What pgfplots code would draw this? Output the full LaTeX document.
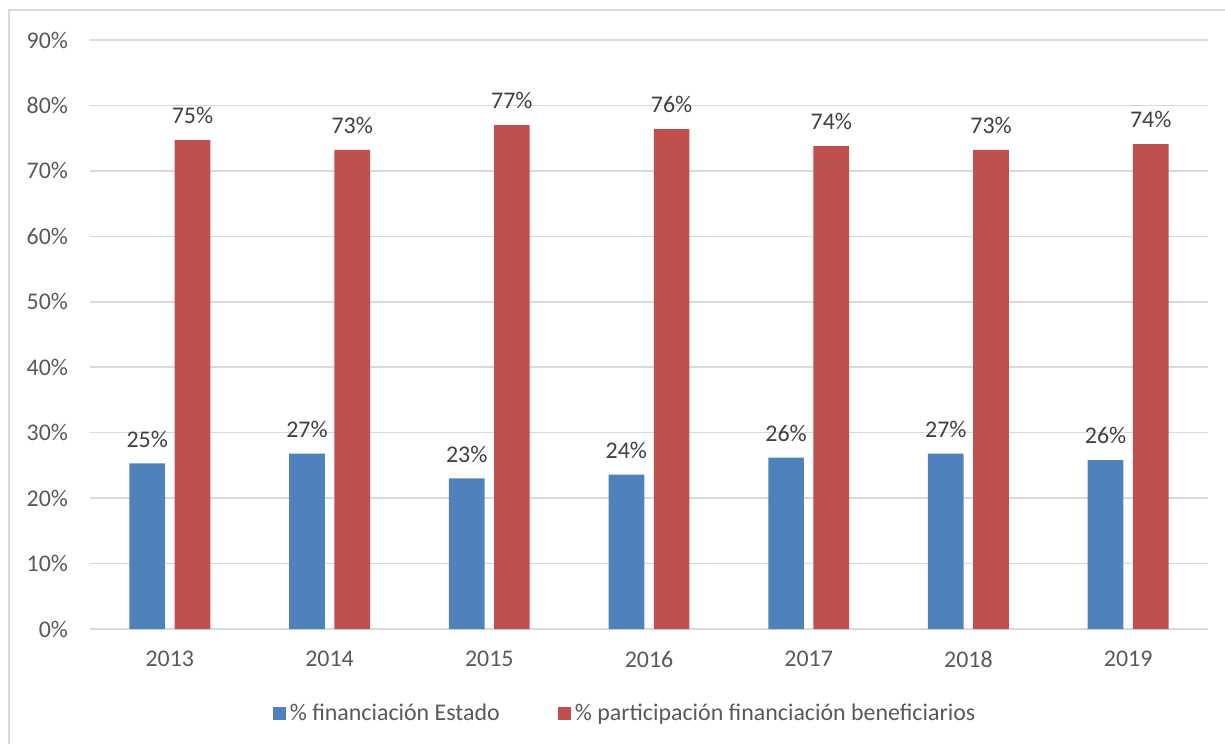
\documentclass[border=0pt]{standalone}
\usepackage{fontspec}
\setmainfont{Carlito}
\usepackage{pgfplots}
\pgfplotsset{compat=1.18}
\definecolor{blueS}{HTML}{4F81BD}
\definecolor{redS}{HTML}{C0504D}
\definecolor{gridc}{HTML}{D9D9D9}
\definecolor{tickc}{HTML}{595959}
\definecolor{labc}{HTML}{404040}
\begin{document}
\begin{tikzpicture}[x=1bp,y=1bp]
\useasboundingbox (0,0) rectangle (612.5,372);
\draw[gridc, line width=0.75bp] (4.5,0) -- (4.5,367) -- (612.5,367);
\begin{axis}[
  at={(45bp,57.5bp)}, anchor=south west,
  scale only axis, width=559bp, height=294.5bp,
  xmin=-0.5, xmax=6.5, ymin=0, ymax=90,
  ytick={0,10,...,90},
  yticklabel={\pgfmathprintnumber{\tick}\%},
  xtick={0,...,6},
  xticklabels={2013,2014,2015,2016,2017,2018,2019},
  axis line style={draw=none},
  major tick length=0pt,
  ymajorgrids, grid style={gridc, line width=0.75bp},
  tick label style={font=\fontsize{12}{14}\selectfont, text=tickc},
  /pgf/number format/assume math mode=true,
  yticklabel style={xshift=-7.5bp},
  xticklabel style={yshift=-7.5bp},
  ybar=4.75bp, bar width=17.85bp,
  nodes near coords={\pgfmathprintnumber[fixed,precision=0]{\pgfplotspointmeta}\%},
  every node near coord/.append style={font=\fontsize{12}{14}\selectfont, text=labc, yshift=4.5bp},
  legend style={at={(0.4795,-0.1443)}, anchor=center, draw=none, legend columns=2,
    font=\fontsize{12}{14}\selectfont, text=tickc,
    /tikz/every even column/.append style={column sep=27bp}},
  legend image code/.code={\fill[#1] (0bp,-3bp) rectangle (6.5bp,3.5bp);},
]
\addplot[fill=blueS, draw=none] coordinates {(0,25.3) (1,26.8) (2,23.0) (3,23.6) (4,26.2) (5,26.8) (6,25.8)};
\addplot[fill=redS, draw=none] coordinates {(0,74.7) (1,73.2) (2,77.0) (3,76.4) (4,73.8) (5,73.2) (6,74.1)};
\legend{\% financiación Estado, \% participación financiación beneficiarios}
\end{axis}
\end{tikzpicture}
\end{document}
